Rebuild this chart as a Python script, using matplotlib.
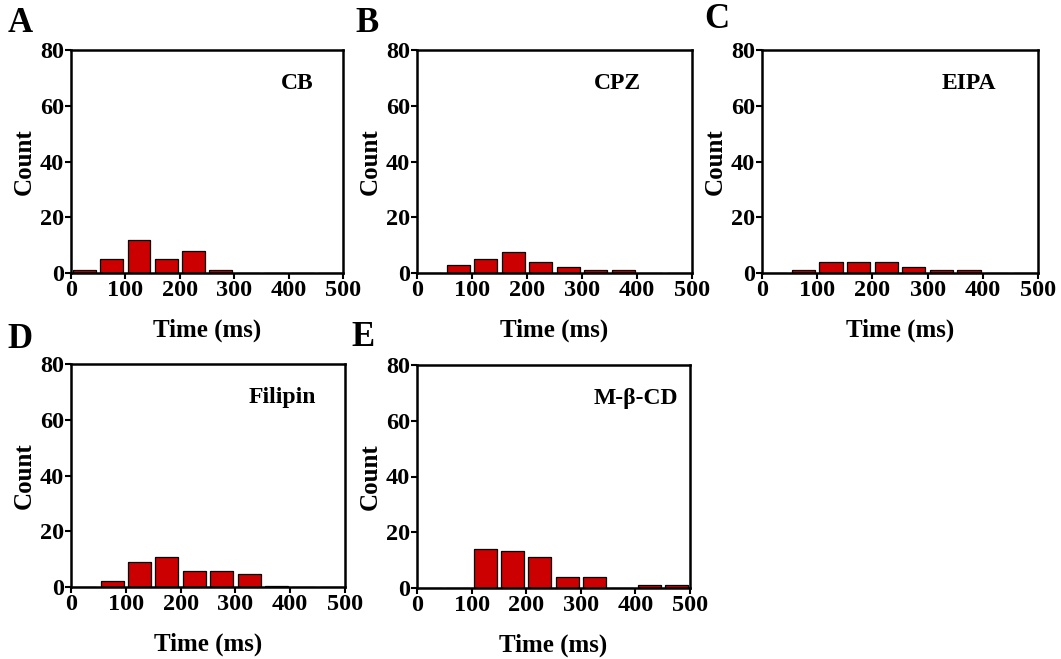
import numpy as np
import matplotlib.pyplot as plt

# Bin-Mittelpunkte (50 ms Bins) und Zählwerte pro Panel
bin_centers = [25, 75, 125, 175, 225, 275, 325, 375, 425, 475]
counts_cb = [1, 5, 12, 5, 8, 1, 0, 0, 0, 0]
counts_cpz = [0, 3, 5, 7.7, 4, 2, 1, 1, 0, 0]
counts_eipa = [0, 1, 4, 4, 4, 2, 1, 1, 0, 0]
counts_filipin = [0, 2, 9, 10.7, 5.7, 5.7, 4.7, 0.4, 0, 0]
counts_mbcd = [0, 0, 14, 13.2, 11, 4, 4, 0, 1, 1]

panel_letters = ["A", "B", "C", "D", "E"]
panel_names = ["CB", "CPZ", "EIPA", "Filipin", "M-β-CD"]
panel_counts = [counts_cb, counts_cpz, counts_eipa, counts_filipin, counts_mbcd]
x_ticks = [0, 100, 200, 300, 400, 500]
y_ticks = [0, 20, 40, 60, 80]

plt.rcParams['font.family'] = ['Liberation Serif', 'DejaVu Serif']
plt.rcParams['font.weight'] = 'bold'

W, H = 1061, 659
fig = plt.figure(figsize=(W / 100, H / 100), dpi=100)

# Achsenpositionen in Pixeln: links, oben, rechts, unten
boxes = [(71, 50, 343, 273), (417, 50, 692, 273), (762, 50, 1038, 273),
         (71, 364, 345, 587), (417, 365, 690, 588)]
name_x = [0.83, 0.73, 0.75, 0.77, 0.80]
letter_pos = [(20, 24), (367, 24), (717, 20), (20, 340), (363, 338)]

for i in range(5):
    l, t, r, b = boxes[i]
    ax = fig.add_axes([l / W, 1 - b / H, (r - l) / W, (b - t) / H])
    ax.bar(bin_centers, panel_counts[i], width=42, color="#cc0000",
           edgecolor="black", linewidth=0.9)
    ax.set_xlim(0, 500)
    ax.set_ylim(0, 80)
    ax.set_xticks(x_ticks)
    ax.set_yticks(y_ticks)
    ax.tick_params(direction="out", length=4, width=1.5, labelsize=17.5, pad=1)
    for s in ax.spines.values():
        s.set_linewidth(1.8)
    ax.set_xlabel("Time (ms)", fontsize=18, fontweight="bold", labelpad=13)
    ax.set_ylabel("Count", fontsize=18, fontweight="bold", labelpad=3)
    ax.text(name_x[i], 0.85, panel_names[i], transform=ax.transAxes,
            ha="center", va="center", fontsize=17, fontweight="bold")
    fig.text(letter_pos[i][0] / W, 1 - letter_pos[i][1] / H, panel_letters[i],
             ha="center", va="center", fontsize=25, fontweight="bold")

plt.savefig("out.png", dpi=100)
